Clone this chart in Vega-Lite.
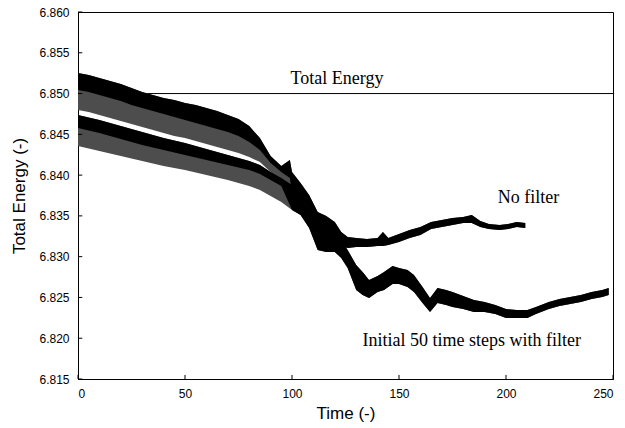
{
  "$schema": "https://vega.github.io/schema/vega-lite/v6.json",
  "width": 535,
  "height": 367,
  "autosize": {"type": "none"},
  "padding": {"left": 78, "top": 12, "right": 12, "bottom": 49},
  "background": "white",
  "config": {
    "view": {"stroke": "black", "strokeWidth": 1},
    "axis": {
      "grid": false,
      "ticks": false,
      "domainColor": "black",
      "labelColor": "black",
      "titleColor": "black",
      "labelFont": "Liberation Sans",
      "titleFont": "Liberation Sans",
      "labelFontSize": 12,
      "titleFontSize": 17,
      "titleFontWeight": "normal"
    }
  },
  "datasets": {
    "energy": [
      {"s": "No filter", "t": 0, "hi": 6.85252, "core": 6.85044, "lo": 6.84798},
      {"s": "No filter", "t": 5, "hi": 6.85227, "core": 6.85019, "lo": 6.84774},
      {"s": "No filter", "t": 10, "hi": 6.85191, "core": 6.84982, "lo": 6.84737},
      {"s": "No filter", "t": 15, "hi": 6.85154, "core": 6.84945, "lo": 6.847},
      {"s": "No filter", "t": 20, "hi": 6.85117, "core": 6.84909, "lo": 6.84663},
      {"s": "No filter", "t": 25, "hi": 6.85068, "core": 6.8486, "lo": 6.84627},
      {"s": "No filter", "t": 30, "hi": 6.85019, "core": 6.84823, "lo": 6.8459},
      {"s": "No filter", "t": 35, "hi": 6.84982, "core": 6.84786, "lo": 6.84553},
      {"s": "No filter", "t": 40, "hi": 6.84945, "core": 6.84749, "lo": 6.84516},
      {"s": "No filter", "t": 45, "hi": 6.84921, "core": 6.84712, "lo": 6.8448},
      {"s": "No filter", "t": 50, "hi": 6.84884, "core": 6.84676, "lo": 6.84455},
      {"s": "No filter", "t": 55, "hi": 6.8486, "core": 6.84639, "lo": 6.84418},
      {"s": "No filter", "t": 60, "hi": 6.84823, "core": 6.84602, "lo": 6.84381},
      {"s": "No filter", "t": 65, "hi": 6.84786, "core": 6.84565, "lo": 6.84345},
      {"s": "No filter", "t": 70, "hi": 6.84737, "core": 6.84529, "lo": 6.84308},
      {"s": "No filter", "t": 75, "hi": 6.84688, "core": 6.8448, "lo": 6.84271},
      {"s": "No filter", "t": 80, "hi": 6.84602, "core": 6.84406, "lo": 6.84222},
      {"s": "No filter", "t": 85, "hi": 6.84455, "core": 6.84308, "lo": 6.84161},
      {"s": "No filter", "t": 90, "hi": 6.84234, "core": 6.84148, "lo": 6.84038},
      {"s": "No filter", "t": 95, "hi": 6.84112, "core": 6.84038, "lo": 6.83916},
      {"s": "No filter", "t": 99, "hi": 6.84185, "core": 6.83965, "lo": 6.83817},
      {"s": "No filter", "t": 100, "hi": 6.84038, "core": 6.83756, "lo": 6.83756},
      {"s": "No filter", "t": 104, "hi": 6.83903, "core": 6.83633, "lo": 6.83633},
      {"s": "No filter", "t": 108, "hi": 6.83756, "core": 6.83511, "lo": 6.83511},
      {"s": "No filter", "t": 112, "hi": 6.83548, "core": 6.83351, "lo": 6.83351},
      {"s": "No filter", "t": 116, "hi": 6.83499, "core": 6.83302, "lo": 6.83302},
      {"s": "No filter", "t": 120, "hi": 6.83425, "core": 6.83204, "lo": 6.83204},
      {"s": "No filter", "t": 123, "hi": 6.83302, "core": 6.83131, "lo": 6.83131},
      {"s": "No filter", "t": 126, "hi": 6.83241, "core": 6.83106, "lo": 6.83106},
      {"s": "No filter", "t": 130, "hi": 6.83229, "core": 6.83118, "lo": 6.83118},
      {"s": "No filter", "t": 135, "hi": 6.83217, "core": 6.83118, "lo": 6.83118},
      {"s": "No filter", "t": 140, "hi": 6.83229, "core": 6.83131, "lo": 6.83131},
      {"s": "No filter", "t": 142.5, "hi": 6.83302, "core": 6.83131, "lo": 6.83131},
      {"s": "No filter", "t": 145, "hi": 6.83229, "core": 6.83143, "lo": 6.83143},
      {"s": "No filter", "t": 150, "hi": 6.83278, "core": 6.8318, "lo": 6.8318},
      {"s": "No filter", "t": 155, "hi": 6.83327, "core": 6.83229, "lo": 6.83229},
      {"s": "No filter", "t": 160, "hi": 6.83364, "core": 6.83266, "lo": 6.83266},
      {"s": "No filter", "t": 165, "hi": 6.83425, "core": 6.83339, "lo": 6.83339},
      {"s": "No filter", "t": 170, "hi": 6.8345, "core": 6.83364, "lo": 6.83364},
      {"s": "No filter", "t": 175, "hi": 6.83474, "core": 6.83388, "lo": 6.83388},
      {"s": "No filter", "t": 180, "hi": 6.83486, "core": 6.83413, "lo": 6.83413},
      {"s": "No filter", "t": 184, "hi": 6.83511, "core": 6.83413, "lo": 6.83413},
      {"s": "No filter", "t": 188, "hi": 6.83437, "core": 6.83364, "lo": 6.83364},
      {"s": "No filter", "t": 192, "hi": 6.834, "core": 6.83339, "lo": 6.83339},
      {"s": "No filter", "t": 197, "hi": 6.83388, "core": 6.83327, "lo": 6.83327},
      {"s": "No filter", "t": 201, "hi": 6.834, "core": 6.83339, "lo": 6.83339},
      {"s": "No filter", "t": 205, "hi": 6.83425, "core": 6.83364, "lo": 6.83364},
      {"s": "No filter", "t": 209, "hi": 6.83413, "core": 6.83351, "lo": 6.83351},

      {"s": "Filtered", "t": 0, "hi": 6.84737, "core": 6.84578, "lo": 6.84357},
      {"s": "Filtered", "t": 10, "hi": 6.84676, "core": 6.84516, "lo": 6.84296},
      {"s": "Filtered", "t": 20, "hi": 6.84602, "core": 6.84443, "lo": 6.84234},
      {"s": "Filtered", "t": 30, "hi": 6.84529, "core": 6.84369, "lo": 6.84173},
      {"s": "Filtered", "t": 40, "hi": 6.84455, "core": 6.84308, "lo": 6.84112},
      {"s": "Filtered", "t": 50, "hi": 6.84394, "core": 6.84247, "lo": 6.84063},
      {"s": "Filtered", "t": 60, "hi": 6.8432, "core": 6.84185, "lo": 6.84001},
      {"s": "Filtered", "t": 70, "hi": 6.84247, "core": 6.84124, "lo": 6.8394},
      {"s": "Filtered", "t": 80, "hi": 6.84173, "core": 6.84063, "lo": 6.83866},
      {"s": "Filtered", "t": 85, "hi": 6.84124, "core": 6.84014, "lo": 6.83817},
      {"s": "Filtered", "t": 90, "hi": 6.84038, "core": 6.8394, "lo": 6.83744},
      {"s": "Filtered", "t": 95, "hi": 6.83965, "core": 6.83866, "lo": 6.8367},
      {"s": "Filtered", "t": 100, "hi": 6.83879, "core": 6.83572, "lo": 6.83572},
      {"s": "Filtered", "t": 104, "hi": 6.83817, "core": 6.83511, "lo": 6.83511},
      {"s": "Filtered", "t": 108, "hi": 6.83695, "core": 6.83351, "lo": 6.83351},
      {"s": "Filtered", "t": 112, "hi": 6.83511, "core": 6.83082, "lo": 6.83082},
      {"s": "Filtered", "t": 116, "hi": 6.8345, "core": 6.83057, "lo": 6.83057},
      {"s": "Filtered", "t": 120, "hi": 6.83327, "core": 6.83057, "lo": 6.83057},
      {"s": "Filtered", "t": 123, "hi": 6.83204, "core": 6.82984, "lo": 6.82984},
      {"s": "Filtered", "t": 126, "hi": 6.83082, "core": 6.82861, "lo": 6.82861},
      {"s": "Filtered", "t": 130, "hi": 6.82898, "core": 6.82591, "lo": 6.82591},
      {"s": "Filtered", "t": 133, "hi": 6.82812, "core": 6.8253, "lo": 6.8253},
      {"s": "Filtered", "t": 136, "hi": 6.82714, "core": 6.82493, "lo": 6.82493},
      {"s": "Filtered", "t": 140, "hi": 6.82763, "core": 6.82567, "lo": 6.82567},
      {"s": "Filtered", "t": 143, "hi": 6.82812, "core": 6.82591, "lo": 6.82591},
      {"s": "Filtered", "t": 147, "hi": 6.82885, "core": 6.82665, "lo": 6.82665},
      {"s": "Filtered", "t": 150, "hi": 6.82861, "core": 6.82665, "lo": 6.82665},
      {"s": "Filtered", "t": 154, "hi": 6.82836, "core": 6.82628, "lo": 6.82628},
      {"s": "Filtered", "t": 157, "hi": 6.82775, "core": 6.82567, "lo": 6.82567},
      {"s": "Filtered", "t": 161, "hi": 6.82628, "core": 6.82432, "lo": 6.82432},
      {"s": "Filtered", "t": 164.5, "hi": 6.82493, "core": 6.82321, "lo": 6.82321},
      {"s": "Filtered", "t": 168, "hi": 6.82616, "core": 6.82432, "lo": 6.82432},
      {"s": "Filtered", "t": 172, "hi": 6.82591, "core": 6.82407, "lo": 6.82407},
      {"s": "Filtered", "t": 175, "hi": 6.82567, "core": 6.82383, "lo": 6.82383},
      {"s": "Filtered", "t": 180, "hi": 6.82518, "core": 6.82358, "lo": 6.82358},
      {"s": "Filtered", "t": 185, "hi": 6.82469, "core": 6.82321, "lo": 6.82321},
      {"s": "Filtered", "t": 190, "hi": 6.82444, "core": 6.82321, "lo": 6.82321},
      {"s": "Filtered", "t": 195, "hi": 6.82407, "core": 6.82297, "lo": 6.82297},
      {"s": "Filtered", "t": 200, "hi": 6.82358, "core": 6.82248, "lo": 6.82248},
      {"s": "Filtered", "t": 205, "hi": 6.82346, "core": 6.82248, "lo": 6.82248},
      {"s": "Filtered", "t": 210, "hi": 6.82346, "core": 6.82248, "lo": 6.82248},
      {"s": "Filtered", "t": 214, "hi": 6.82383, "core": 6.82297, "lo": 6.82297},
      {"s": "Filtered", "t": 220, "hi": 6.82444, "core": 6.82358, "lo": 6.82358},
      {"s": "Filtered", "t": 225, "hi": 6.82481, "core": 6.82395, "lo": 6.82395},
      {"s": "Filtered", "t": 230, "hi": 6.82505, "core": 6.8242, "lo": 6.8242},
      {"s": "Filtered", "t": 235, "hi": 6.8253, "core": 6.82444, "lo": 6.82444},
      {"s": "Filtered", "t": 240, "hi": 6.82567, "core": 6.82481, "lo": 6.82481},
      {"s": "Filtered", "t": 245, "hi": 6.82591, "core": 6.82505, "lo": 6.82505},
      {"s": "Filtered", "t": 248, "hi": 6.82616, "core": 6.8253, "lo": 6.8253}
    ],
    "notes": [
      {"t": 121, "v": 6.8512, "txt": "Total Energy"},
      {"t": 210.5, "v": 6.8366, "txt": "No filter"},
      {"t": 184, "v": 6.81904, "txt": "Initial 50 time steps with filter"}
    ],
    "yticks": [
      {"v": 6.815}, {"v": 6.82}, {"v": 6.825}, {"v": 6.83}, {"v": 6.835},
      {"v": 6.84}, {"v": 6.845}, {"v": 6.85}, {"v": 6.855}, {"v": 6.86}
    ],
    "xticks": [
      {"t": 0}, {"t": 50}, {"t": 100}, {"t": 150}, {"t": 200}, {"t": 250}
    ]
  },
  "layer": [
    {
      "data": {"values": [{"e": 6.85}]},
      "mark": {"type": "rule", "color": "black", "strokeWidth": 1},
      "encoding": {
        "y": {
          "field": "e",
          "type": "quantitative",
          "title": "Total Energy (-)",
          "scale": {"domain": [6.815, 6.86], "nice": false, "zero": false},
          "axis": {
            "values": [6.815, 6.82, 6.825, 6.83, 6.835, 6.84, 6.845, 6.85, 6.855, 6.86],
            "format": ".3f",
            "labelPadding": 9,
            "titlePadding": 10
          }
        }
      }
    },
    {
      "data": {"name": "energy"},
      "mark": {"type": "area", "color": "#4d4d4d", "opacity": 1},
      "encoding": {
        "x": {
          "field": "t",
          "type": "quantitative",
          "title": "Time (-)",
          "scale": {"domain": [0, 250], "nice": false},
          "axis": {"values": [0, 50, 100, 150, 200, 250], "labelPadding": 9, "titlePadding": 6}
        },
        "y": {"field": "hi", "type": "quantitative", "title": "Total Energy (-)"},
        "y2": {"field": "lo"},
        "detail": {"field": "s"}
      }
    },
    {
      "data": {"name": "energy"},
      "mark": {"type": "area", "color": "black", "opacity": 1},
      "encoding": {
        "x": {"field": "t", "type": "quantitative", "title": "Time (-)"},
        "y": {"field": "hi", "type": "quantitative", "title": "Total Energy (-)"},
        "y2": {"field": "core"},
        "detail": {"field": "s"}
      }
    },
    {
      "data": {"name": "yticks"},
      "mark": {"type": "rule", "color": "black", "strokeWidth": 1},
      "encoding": {
        "y": {"field": "v", "type": "quantitative", "title": "Total Energy (-)"},
        "x": {"datum": 0, "type": "quantitative"},
        "x2": {"datum": 2}
      }
    },
    {
      "data": {"name": "xticks"},
      "mark": {"type": "rule", "color": "black", "strokeWidth": 1},
      "encoding": {
        "x": {"field": "t", "type": "quantitative", "title": "Time (-)"},
        "y": {"datum": 6.815, "type": "quantitative"},
        "y2": {"datum": 6.8155}
      }
    },
    {
      "data": {"name": "notes"},
      "mark": {"type": "text", "font": "Liberation Serif", "fontSize": 18, "color": "black", "align": "center", "baseline": "alphabetic"},
      "encoding": {
        "x": {"field": "t", "type": "quantitative", "title": "Time (-)"},
        "y": {"field": "v", "type": "quantitative", "title": "Total Energy (-)"},
        "text": {"field": "txt"}
      }
    }
  ]
}
